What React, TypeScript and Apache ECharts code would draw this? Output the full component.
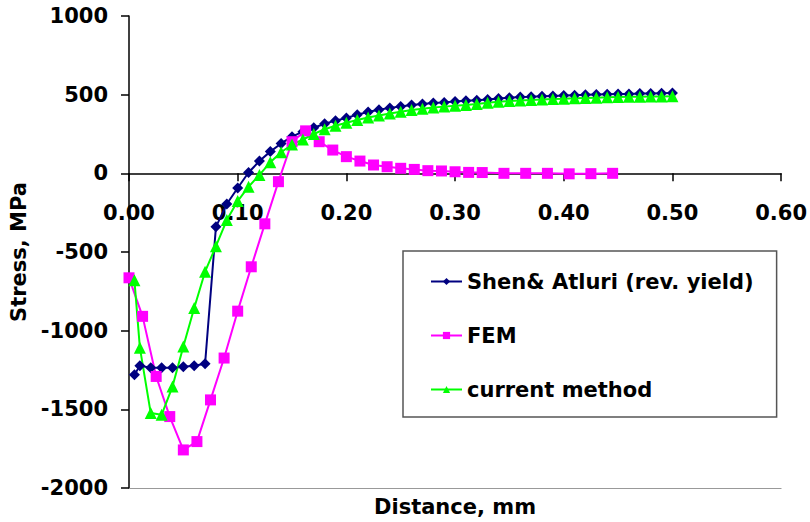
import React, { useEffect, useRef } from "react";
import * as echarts from "echarts";

const FONT = "'DejaVu Sans', 'Liberation Sans', Arial, sans-serif";

const shenX = [0.005, 0.01, 0.02, 0.03, 0.04, 0.05, 0.06, 0.07, 0.08, 0.09, 0.10, 0.11, 0.12, 0.13, 0.14, 0.15, 0.16, 0.17, 0.18, 0.19, 0.20, 0.21, 0.22, 0.23, 0.24, 0.25, 0.26, 0.27, 0.28, 0.29, 0.30, 0.31, 0.32, 0.33, 0.34, 0.35, 0.36, 0.37, 0.38, 0.39, 0.40, 0.41, 0.42, 0.43, 0.44, 0.45, 0.46, 0.47, 0.48, 0.49, 0.50];
const shenY = [-1280, -1223, -1236, -1236, -1236, -1229, -1223, -1210, -340, -195, -93, 5, 78, 138, 190, 233, 265, 290, 315, 335, 352, 373, 390, 404, 416, 425, 434, 440, 447, 451, 456, 461, 465, 470, 476, 480, 485, 487, 490, 492, 494, 497, 499, 501, 503, 504, 505, 507, 508, 509, 510];

const femX = [0, 0.0125, 0.025, 0.0375, 0.05, 0.0625, 0.075, 0.0875, 0.1, 0.1125, 0.125, 0.1375, 0.15, 0.1625, 0.175, 0.1875, 0.2, 0.2125, 0.225, 0.2375, 0.25, 0.2625, 0.275, 0.2875, 0.3, 0.3125, 0.325, 0.345, 0.365, 0.385, 0.405, 0.425, 0.445];
const femY = [-664, -909, -1291, -1546, -1758, -1705, -1440, -1174, -876, -594, -321, -53, 201, 270, 201, 148, 106, 78, 53, 42, 32, 25, 17, 15, 10, 6, 5, 0, 0, 0, -3, -2, 0];

const curX = [0.005, 0.01, 0.02, 0.03, 0.04, 0.05, 0.06, 0.07, 0.08, 0.09, 0.10, 0.11, 0.12, 0.13, 0.14, 0.15, 0.16, 0.17, 0.18, 0.19, 0.20, 0.21, 0.22, 0.23, 0.24, 0.25, 0.26, 0.27, 0.28, 0.29, 0.30, 0.31, 0.32, 0.33, 0.34, 0.35, 0.36, 0.37, 0.38, 0.39, 0.40, 0.41, 0.42, 0.43, 0.44, 0.45, 0.46, 0.47, 0.48, 0.49, 0.50];
const curY = [-680, -1108, -1524, -1535, -1355, -1100, -856, -625, -463, -297, -176, -85, -10, 70, 134, 183, 215, 250, 280, 302, 322, 339, 355, 367, 380, 392, 402, 410, 418, 424, 430, 435, 441, 448, 455, 459, 463, 466, 469, 472, 474, 477, 479, 481, 483, 485, 486, 487, 488, 489, 490];

const seriesNames = ["Shen& Atluri (rev. yield)", "FEM", "current method"];
const xTitle = "Distance, mm";
const yTitle = "Stress, MPa";

const zip = (xs: number[], ys: number[]) => xs.map((x, i) => [x, ys[i]]);

export default function App() {
  const ref = useRef<HTMLDivElement>(null);
  useEffect(() => {
    document.body.style.margin = "0";
    const chart = echarts.init(ref.current!, null, { renderer: "svg" });
    const txt = { fontFamily: FONT, fontWeight: "bold" as const, fontSize: 21, color: "#000" };
    chart.setOption({
      animation: false,
      backgroundColor: "#fff",
      grid: { left: 129, right: 25, top: 16, bottom: 34, containLabel: false },
      xAxis: [
        {
          type: "value",
          position: "top",
          min: 0,
          max: 0.6,
          interval: 0.1,
          axisLine: { onZero: true, lineStyle: { color: "#000", width: 1.5 } },
          axisTick: { show: true, inside: true, length: 8, lineStyle: { color: "#000", width: 1.5 } },
          axisLabel: { inside: true, margin: 186, ...txt, formatter: (v: number) => v.toFixed(2) },
          splitLine: { show: false },
        },
        {
          type: "value",
          position: "bottom",
          min: 0,
          max: 0.6,
          axisLine: { onZero: false, lineStyle: { color: "#999", width: 1 } },
          axisTick: { show: false },
          axisLabel: { show: false },
          splitLine: { show: false },
          name: xTitle,
          nameLocation: "middle",
          nameGap: 8,
          nameTextStyle: { ...txt, verticalAlign: "top" },
        },
      ],
      yAxis: {
        type: "value",
        min: -2000,
        max: 1000,
        interval: 500,
        axisLine: { show: true, onZero: false, lineStyle: { color: "#000", width: 1.5 } },
        axisTick: { show: true, length: 8, lineStyle: { color: "#000", width: 1.5 } },
        axisLabel: { margin: 21, ...txt, formatter: (v: number) => String(v) },
        splitLine: { show: false },
        name: yTitle,
        nameLocation: "middle",
        nameGap: 97,
        nameTextStyle: { ...txt },
      },
      legend: {
        orient: "vertical",
        left: 403,
        top: 251,
        padding: [20, 23, 17, 27],
        itemGap: 33,
        itemWidth: 31,
        itemHeight: 9,
        borderColor: "#555",
        borderWidth: 1.5,
        backgroundColor: "#fff",
        textStyle: { ...txt },
        data: seriesNames,
      },
      series: [
        {
          name: seriesNames[0],
          type: "line",
          data: zip(shenX, shenY),
          symbol: "diamond",
          symbolSize: 11,
          color: "#000080",
          lineStyle: { width: 2, color: "#000080" },
          itemStyle: { color: "#000080" },
        },
        {
          name: seriesNames[1],
          type: "line",
          data: zip(femX, femY),
          symbol: "rect",
          symbolSize: 11,
          color: "#ff00ff",
          lineStyle: { width: 2, color: "#ff00ff" },
          itemStyle: { color: "#ff00ff" },
        },
        {
          name: seriesNames[2],
          type: "line",
          data: zip(curX, curY),
          symbol: "triangle",
          symbolSize: 12,
          color: "#00ff00",
          lineStyle: { width: 2, color: "#00ff00" },
          itemStyle: { color: "#00ff00" },
        },
      ],
    });
    return () => chart.dispose();
  }, []);
  return <div ref={ref} style={{ width: 810, height: 522 }} />;
}
